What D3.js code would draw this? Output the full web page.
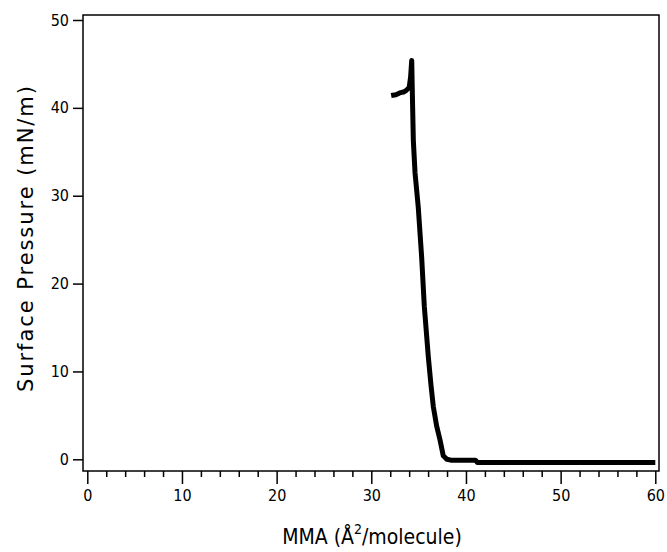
<!DOCTYPE html>
<html lang="en">
<head>
    <meta charset="UTF-8">
    <title>Isotherm</title>
    <script src="https://d3js.org/d3.v7.min.js"></script>
    <style>
        body { margin: 0; background: #fff; }
        .tick text { font-family: "Liberation Sans Narrow", "DejaVu Sans Condensed", sans-serif; font-size: 16px; }
    </style>
</head>
<body>
    <svg id="chart" width="667" height="552"></svg>

    <script>
        // mean molecular area (A^2/molecule) and surface pressure (mN/m)
        var mma = [32.1, 32.6, 33.0, 33.4, 33.7, 34.0, 34.15, 34.27, 34.33, 34.44, 34.62, 34.96, 35.32, 35.6, 36.02, 36.3, 36.55, 36.9, 37.26, 37.6, 38.0, 38.4, 39.5, 41.0, 41.2, 45, 50, 55, 60];
        var pressure = [41.4, 41.5, 41.7, 41.8, 42.0, 42.3, 43.5, 45.4, 42.0, 36.3, 32.6, 28.7, 23.0, 17.4, 11.7, 8.5, 6.0, 3.8, 2.2, 0.4, 0.0, -0.1, -0.1, -0.1, -0.35, -0.35, -0.35, -0.35, -0.35];

        var xTicks = [0, 10, 20, 30, 40, 50, 60];
        var yTicks = [0, 10, 20, 30, 40, 50];

        var svg = d3.select("#chart");

        var mLeft = 83, mRight = 659, mTop = 15, mBottom = 471;

        var x = d3.scaleLinear().domain([0, 60]).range([87.3, 655.3]);
        var y = d3.scaleLinear().domain([0, 50]).range([459.3, 20]);

        // frame
        svg.append("rect")
            .attr("x", mLeft).attr("y", mTop)
            .attr("width", mRight - mLeft).attr("height", mBottom - mTop)
            .attr("fill", "none").attr("stroke", "#000").attr("stroke-width", 1.5);

        // x axis: major ticks every 10, minor every 2
        var xAxis = svg.append("g")
            .attr("transform", "translate(0," + mBottom + ")")
            .call(d3.axisBottom(x).tickValues(xTicks).tickSize(13).tickPadding(6).tickFormat(d3.format("d")));
        xAxis.select(".domain").remove();
        xAxis.selectAll("line").attr("stroke-width", 1.5);

        svg.append("g")
            .attr("transform", "translate(0," + mBottom + ")")
            .call(d3.axisBottom(x).tickValues(d3.range(0, 61, 2).filter(d => d % 10 != 0)).tickSize(6).tickFormat(""))
            .call(g => g.select(".domain").remove())
            .selectAll("line").attr("stroke-width", 1.5);

        // y axis
        var yAxis = svg.append("g")
            .attr("transform", "translate(" + mLeft + ",0)")
            .call(d3.axisLeft(y).tickValues(yTicks).tickSize(10).tickPadding(4).tickFormat(d3.format("d")));
        yAxis.select(".domain").remove();
        yAxis.selectAll("line").attr("stroke-width", 1.5);

        // isotherm
        var pts = mma.map((d, i) => [d, pressure[i]]);

        svg.append("path")
            .datum(pts)
            .attr("d", d3.line().x(d => x(d[0])).y(d => y(d[1])))
            .attr("fill", "none")
            .attr("stroke", "#000")
            .attr("stroke-width", 5)
            .attr("stroke-linejoin", "round");

        // axis titles
        svg.append("text")
            .attr("transform", "translate(33,239) rotate(-90)")
            .attr("text-anchor", "middle")
            .attr("font-family", "'DejaVu Sans', sans-serif")
            .attr("font-size", 21)
            .attr("textLength", 306)
            .attr("lengthAdjust", "spacing")
            .text("Surface Pressure (mN/m)");

        var xt = svg.append("text")
            .attr("x", 372).attr("y", 544)
            .attr("text-anchor", "middle")
            .attr("font-family", "'Liberation Sans Narrow', 'DejaVu Sans Condensed', sans-serif")
            .attr("font-size", 21);
        xt.append("tspan").text("MMA (Å");
        xt.append("tspan").attr("dy", -10).attr("font-size", 14).text("2");
        xt.append("tspan").attr("dy", 10).text("/molecule)");
    </script>
</body>
</html>
